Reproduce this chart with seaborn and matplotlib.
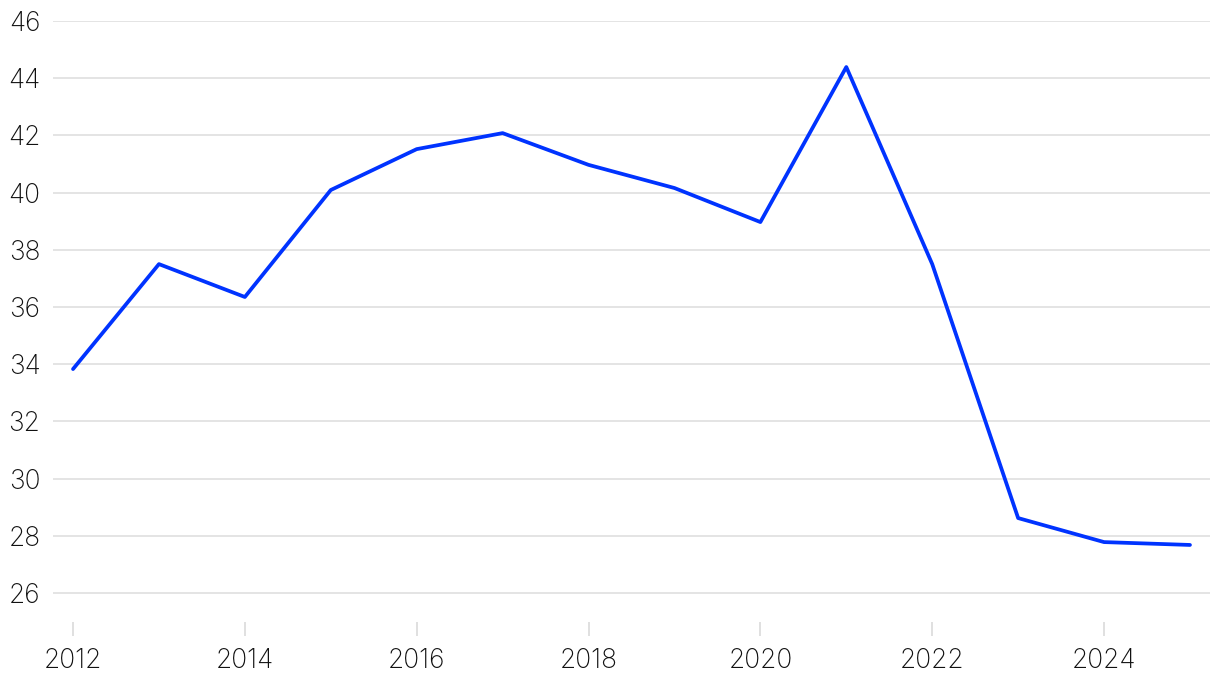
import matplotlib
matplotlib.use("Agg")
import matplotlib.pyplot as plt
import seaborn as sns
import pandas as pd

years = [2012, 2013, 2014, 2015, 2016, 2017, 2018, 2019, 2020, 2021, 2022, 2023, 2024, 2025]
values = [33.83, 37.50, 36.35, 40.09, 41.52, 42.08, 40.97, 40.16, 38.97, 44.39, 37.50, 28.62, 27.78, 27.68]
x_ticks = [2012, 2014, 2016, 2018, 2020, 2022, 2024]
y_ticks = [26, 28, 30, 32, 34, 36, 38, 40, 42, 44, 46]

sns.set_theme(style="white")
plt.rcParams['font.family'] = ['Inter', 'DejaVu Sans']

df = pd.DataFrame({"year": years, "value": values})

fig = plt.figure(figsize=(12.2, 6.8), dpi=100)
ax = fig.add_axes([53/1220, 1 - 621.6/680, (1210 - 53)/1220, (621.6 - 21)/680])

sns.lineplot(data=df, x="year", y="value", ax=ax, color="#0033FF", linewidth=2.7)

ax.set_xlim(2011.767, 2025.233)
ax.set_ylim(25, 46)
ax.set_xticks(x_ticks)
ax.set_yticks(y_ticks)
ax.set_xticklabels([str(t) for t in x_ticks])
ax.set_yticklabels([str(t) for t in y_ticks])
ax.yaxis.grid(True, color="#e2e2e2", linewidth=1.3)
ax.xaxis.grid(False)
for s in ax.spines.values():
    s.set_visible(False)
ax.set_xlabel("")
ax.set_ylabel("")
ax.tick_params(axis="x", length=10, width=1.3, color="#dddddd", pad=9, labelsize=19, labelcolor="#111111", bottom=True, direction="out")
ax.tick_params(axis="y", length=0, pad=9, labelsize=19, labelcolor="#111111")
for lab in ax.get_xticklabels() + ax.get_yticklabels():
    lab.set_fontweight("light")

fig.savefig("out.png", dpi=100, facecolor="white")
